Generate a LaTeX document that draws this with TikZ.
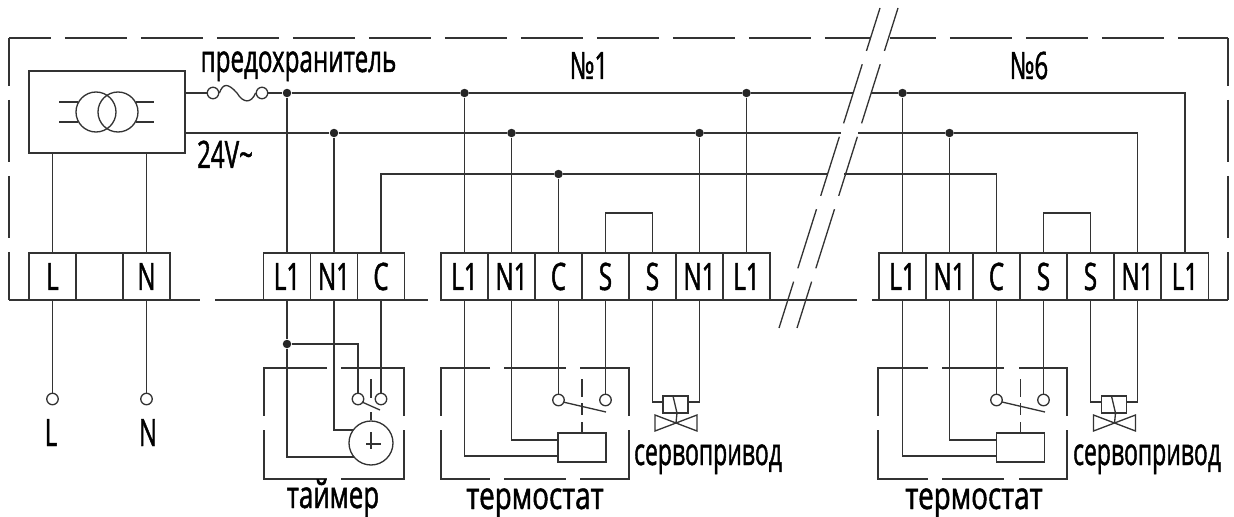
\documentclass[tikz,border=0pt]{standalone}
\usepackage{fontspec}
\newfontfamily\cadfont[FakeStretch=.64, FakeBold=1.2]{Open Sans}
\definecolor{wirecol}{HTML}{333333}
\tikzset{
    wire/.style={line width=.75pt, draw=wirecol},
    frameline/.style={line width=.75pt, draw=wirecol, dash pattern=on 1.24cm off .28cm},
    termbox/.style={draw=wirecol, line width=.7pt, minimum width=.94cm, minimum height=.94cm, inner sep=0pt, text=black, font=\cadfont\fontsize{21.5}{21.5}\selectfont},
    junction/.style={circle, fill=black!85, minimum size=.17cm, inner sep=0pt},
    contact/.style={circle, draw=wirecol, line width=.75pt, minimum size=.23cm, inner sep=0pt},
    caption/.style={anchor=base, inner sep=0pt, text=black, font=\cadfont\fontsize{21.5}{21.5}\selectfont},
    relaybox/.style={draw=wirecol, line width=.75pt, minimum width=.96cm, minimum height=.58cm, inner sep=0pt},
    coilbox/.style={draw=wirecol, line width=.75pt, minimum width=.5cm, minimum height=.34cm, inner sep=0pt}
}
\begin{document}
\begin{tikzpicture}[x=.02cm, y=-.02cm]
    \useasboundingbox (0, 0) rectangle (1234, 517);

    % outer frame
    \draw[frameline, dash phase=.4cm] (9, 38) -- (870, 38);
    \draw[frameline, dash phase=.32cm] (890, 38) -- (1228, 38);
    \draw[frameline, dash phase=.28cm] (9, 38) -- (9, 300);
    \draw[wire] (9, 300) -- (200, 300);
    \draw[wire] (215, 300) -- (428, 300);
    \draw[wire] (441, 300) -- (857, 300);
    \draw[wire] (872, 300) -- (1228, 300);
    \draw[frameline, dash phase=.28cm] (1228, 38) -- (1228, 300);

    % break marks
    \draw[frameline, dash phase=.34cm] (880, 8) -- (779, 328);
    \draw[frameline, dash phase=.34cm] (898, 8) -- (797, 328);

    % mains and transformer
    \node[draw=wirecol, line width=.75pt, minimum width=3.12cm, minimum height=1.64cm, inner sep=0pt] (trans) at (107, 112) {};
    \node[draw=wirecol, line width=.75pt, circle, minimum size=.8cm, inner sep=0pt] (coilA) at (96, 112) {};
    \node[draw=wirecol, line width=.75pt, circle, minimum size=.8cm, inner sep=0pt] (coilB) at (118, 112) {};
    \coordinate (coilAa) at (59, 102);
    \coordinate (coilAb) at (59, 122);
    \coordinate (coilBa) at (154, 102);
    \coordinate (coilBb) at (154, 122);
    \draw[wire] (coilAa) -- (78, 102);
    \draw[wire] (coilAb) -- (78, 122);
    \draw[wire] (136, 102) -- (coilBa);
    \draw[wire] (136, 122) -- (coilBb);

    % terminal rows
    \node[termbox] (t0a) at (52.5, 276.5) {L};
    \node[termbox] (t0b) at (99.5, 276.5) {};
    \node[termbox] (t0c) at (146.5, 276.5) {N};

    \node[termbox] (t1a) at (287, 276.5) {L1};
    \node[termbox] (t1b) at (334, 276.5) {N1};
    \node[termbox] (t1c) at (381, 276.5) {C};

    \node[termbox] (t2a) at (464.5, 276.5) {L1};
    \node[termbox] (t2b) at (511.5, 276.5) {N1};
    \node[termbox] (t2c) at (558.5, 276.5) {C};
    \node[termbox] (t2d) at (605.5, 276.5) {S};
    \node[termbox] (t2e) at (652.5, 276.5) {S};
    \node[termbox] (t2f) at (699.5, 276.5) {N1};
    \node[termbox] (t2g) at (746.5, 276.5) {L1};

    \node[termbox] (t3a) at (902.5, 276.5) {L1};
    \node[termbox] (t3b) at (949.5, 276.5) {N1};
    \node[termbox] (t3c) at (996.5, 276.5) {C};
    \node[termbox] (t3d) at (1043.5, 276.5) {S};
    \node[termbox] (t3e) at (1090.5, 276.5) {S};
    \node[termbox] (t3f) at (1137.5, 276.5) {N1};
    \node[termbox] (t3g) at (1185, 276.5) {L1};

    % bus junctions and fuse
    \node[contact] (fuseA) at (213, 93) {};
    \node[contact] (fuseB) at (262, 93) {};
    \node[junction] (busA) at (287, 93) {};
    \node[junction] (busB) at (464.5, 93) {};
    \node[junction] (busC) at (746.5, 93) {};
    \node[junction] (busD) at (902.5, 93) {};
    \node[junction] (busE) at (334, 133) {};
    \node[junction] (busF) at (511.5, 133) {};
    \node[junction] (busG) at (699.5, 133) {};
    \node[junction] (busH) at (949.5, 133) {};
    \node[junction] (busI) at (558.5, 174) {};
    \coordinate (outA) at (185, 93);
    \coordinate (outB) at (185, 133);
    \coordinate (cutA) at (853, 93);
    \coordinate (cutB) at (871, 93);
    \coordinate (cutC) at (841, 133);
    \coordinate (cutD) at (858, 133);
    \coordinate (cutE) at (828, 174);
    \coordinate (cutF) at (844, 174);

    \draw[wire] (outA) -- (fuseA);
    \draw[wire] (fuseA.east) .. controls (223, 83) and (228, 83) .. (237, 93) .. controls (243, 103) and (251, 104) .. (fuseB.west);
    \draw[wire] (fuseB) -- (busA);
    \draw[wire] (busA) -- (busB);
    \draw[wire] (busB) -- (busC);
    \draw[wire] (busC) -- (cutA);
    \draw[wire] (cutB) -- (busD);
    \draw[wire] (busD) -| (t3g.north);
    \draw[wire] (outB) -- (busE);
    \draw[wire] (busE) -- (busF);
    \draw[wire] (busF) -- (busG);
    \draw[wire] (busG) -- (cutC);
    \draw[wire] (cutD) -- (busH);
    \draw[wire] (busH) -| (t3f.north);
    \draw[wire] (t1c.north) |- (busI);
    \draw[wire] (busI) -- (cutE);
    \draw[wire] (cutF) -| (t3c.north);

    \draw[wire] (busA) -- (t1a);
    \draw[wire] (busE) -- (t1b);
    \draw[wire] (busB) -- (t2a);
    \draw[wire] (busF) -- (t2b);
    \draw[wire] (busI) -- (t2c);
    \draw[wire] (busG) -- (t2f);
    \draw[wire] (busC) -- (t2g);
    \draw[wire] (busD) -- (t3a);
    \draw[wire] (busH) -- (t3b);

    \coordinate (jumpA) at (605.5, 213);
    \coordinate (jumpB) at (652.5, 213);
    \coordinate (jumpC) at (1043.5, 213);
    \coordinate (jumpD) at (1090.5, 213);
    \draw[wire] (t2d.north) -- (jumpA) -- (jumpB) -- (t2e.north);
    \draw[wire] (t3d.north) -- (jumpC) -- (jumpD) -- (t3e.north);

    \coordinate (trL) at (52.5, 153);
    \coordinate (trN) at (146.5, 153);
    \draw[wire] (trL) -- (t0a);
    \draw[wire] (trN) -- (t0c);

    % mains feed
    \node[contact] (feedL) at (52.5, 399) {};
    \node[contact] (feedN) at (146.5, 399) {};
    \draw[wire] (t0a) -- (feedL);
    \draw[wire] (t0c) -- (feedN);

    % timer
    \draw[wire] (327, 368) -- (264, 368) -- (264, 416);
    \draw[wire] (264, 430) -- (264, 479) -- (327, 479);
    \draw[wire] (341, 479) -- (404, 479) -- (404, 430);
    \draw[wire] (404, 416) -- (404, 368) -- (341, 368);
    \node[draw=wirecol, line width=.75pt, circle, minimum size=.88cm, inner sep=0pt] (clock) at (371, 443) {};
    \node[contact] (timA) at (358, 399) {};
    \node[contact] (timB) at (381, 399) {};
    \node[junction] (timDot) at (287, 344) {};
    \coordinate (clockL) at (354, 457);
    \coordinate (clockN) at (353, 430);
    \draw[wire] (t1a) -- (timDot);
    \draw[wire] (timDot) -| (timA.north);
    \draw[wire] (timDot) |- (clockL);
    \draw[wire] (t1b) |- (clockN);
    \draw[wire] (t1c) -- (timB);
    \draw[wire] (362, 402) -- (380, 410);
    \draw[wire] (371, 379) -- (371, 398);
    \draw[wire] (371, 412) -- (clock.north);
    \draw[wire] (371, 432) -- (371, 449);
    \draw[wire] (366, 444) -- (381, 444);

    % thermostat 1
    \draw[wire] (490, 368) -- (441, 368) -- (441, 416);
    \draw[wire] (504, 368) -- (566, 368);
    \draw[wire] (580, 368) -- (629, 368) -- (629, 416);
    \draw[wire] (441, 430) -- (441, 479) -- (490, 479);
    \draw[wire] (504, 479) -- (566, 479);
    \draw[wire] (580, 479) -- (629, 479) -- (629, 430);
    \node[relaybox] (relayA) at (582, 447.5) {};
    \node[contact] (conA) at (558.5, 400) {};
    \node[contact] (conB) at (605.5, 400) {};
    \coordinate (relayAa) at (558, 456);
    \coordinate (relayAb) at (558, 440);
    \draw[wire] (t2a) |- (relayAa);
    \draw[wire] (t2b) |- (relayAb);
    \draw[wire] (t2c) -- (conA);
    \draw[wire] (t2d) -- (conB);
    \draw[wire] (563, 402) -- (606, 412);
    \draw[wire] (582, 379) -- (582, 397);
    \draw[wire] (582, 403) -- (582, 415);
    \draw[wire] (582, 422) -- (relayA.north);

    % valve 1
    \node[coilbox] (coilC) at (675.5, 404.5) {};
    \coordinate (coilCa) at (663, 402);
    \coordinate (coilCb) at (688, 402);
    \draw[wire] (t2e) |- (coilCa);
    \draw[wire] (t2f) |- (coilCb);
    \draw[wire] (673, 396) -- (677, 413) -- (676, 423);
    \draw[wire] (676, 423) -- (655, 415) -- (655, 431) -- cycle;
    \draw[wire] (676, 423) -- (697, 415) -- (697, 431) -- cycle;

    % thermostat 2
    \draw[wire] (928, 368) -- (878, 368) -- (878, 416);
    \draw[wire] (942, 368) -- (1004, 368);
    \draw[wire] (1019, 368) -- (1067, 368) -- (1067, 416);
    \draw[wire] (878, 430) -- (878, 479) -- (928, 479);
    \draw[wire] (942, 479) -- (1004, 479);
    \draw[wire] (1019, 479) -- (1067, 479) -- (1067, 430);
    \node[relaybox] (relayB) at (1020.5, 447.5) {};
    \node[contact] (conC) at (996.5, 400) {};
    \node[contact] (conD) at (1043.5, 400) {};
    \coordinate (relayBa) at (997, 456);
    \coordinate (relayBb) at (997, 440);
    \draw[wire] (t3a) |- (relayBa);
    \draw[wire] (t3b) |- (relayBb);
    \draw[wire] (t3c) -- (conC);
    \draw[wire] (t3d) -- (conD);
    \draw[wire] (1002, 402) -- (1045, 412);
    \draw[wire] (1020.5, 379) -- (1020.5, 397);
    \draw[wire] (1020.5, 403) -- (1020.5, 415);
    \draw[wire] (1020.5, 422) -- (relayB.north);

    % valve 2
    \node[coilbox] (coilD) at (1114, 404.5) {};
    \coordinate (coilDa) at (1101.5, 402);
    \coordinate (coilDb) at (1126.5, 402);
    \draw[wire] (t3e) |- (coilDa);
    \draw[wire] (t3f) |- (coilDb);
    \draw[wire] (1111.5, 396) -- (1115.5, 413) -- (1114.5, 423);
    \draw[wire] (1114.5, 423) -- (1093.5, 415) -- (1093.5, 431) -- cycle;
    \draw[wire] (1114.5, 423) -- (1135.5, 415) -- (1135.5, 431) -- cycle;

    % labels
    \node[caption] (fuseText) at (298.5, 72) {предохранитель};
    \node[caption] (voltText) at (225, 168) {24V\textasciitilde};
    \node[caption] (numA) at (589, 79) {№1};
    \node[caption] (numB) at (1029, 79) {№6};
    \node[caption] (textL) at (51, 446) {L};
    \node[caption] (textN) at (148, 446) {N};
    \node[caption, xscale=1.07] (timText) at (333, 508) {таймер};
    \node[caption, xscale=1.15] (thermA) at (535, 509) {термостат};
    \node[caption, xscale=1.15] (thermB) at (974, 509) {термостат};
    \node[caption, xscale=.95] (servoA) at (708, 465) {сервопривод};
    \node[caption, xscale=.95] (servoB) at (1147, 465) {сервопривод};
\end{tikzpicture}
\end{document}
